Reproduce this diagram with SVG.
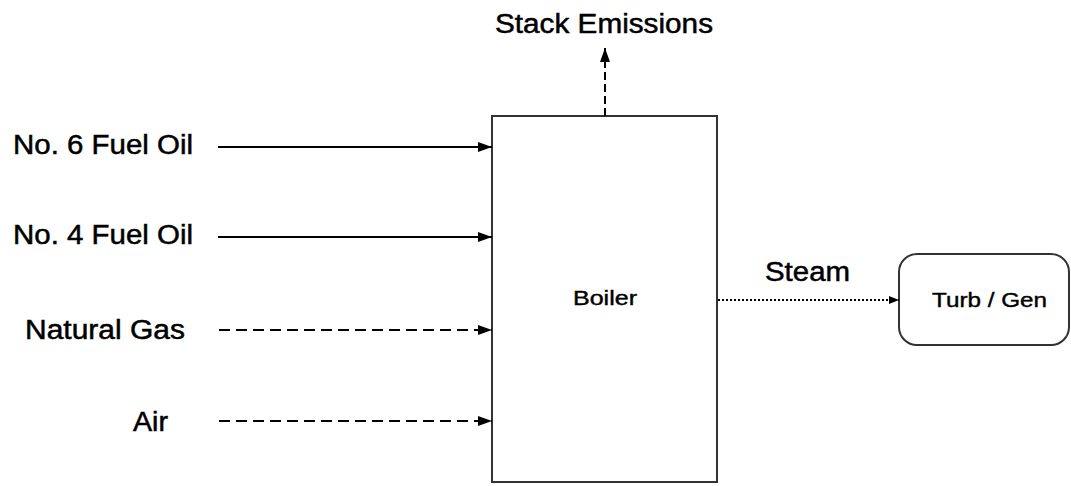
<svg xmlns="http://www.w3.org/2000/svg" width="1071" height="486" viewBox="0 0 1071 486">
  <style>
    .lbl { font-family: "Liberation Sans", Arial, sans-serif; font-size: 27px; fill: #000; stroke: #000; stroke-width: 0.5; }
    .in { font-family: "Liberation Sans", Arial, sans-serif; font-size: 20px; fill: #000; stroke: #000; stroke-width: 0.4; }
    .box { fill: #fff; stroke: #333; stroke-width: 2; }
    .solid { stroke: #000; stroke-width: 2; fill: none; }
    .dash { stroke: #000; stroke-width: 2; fill: none; stroke-dasharray: 11 6; }
    .vdash { stroke: #000; stroke-width: 2; fill: none; stroke-dasharray: 8 4; }
    .dot { stroke: #000; stroke-width: 2; fill: none; stroke-dasharray: 2 2; }
  </style>
  <defs>
    <marker id="arrow" viewBox="0 0 14 10" refX="14" refY="5" markerWidth="14" markerHeight="10" markerUnits="userSpaceOnUse" orient="auto">
      <path d="M0,0 L14,5 L0,10 Z" fill="#000"/>
    </marker>
    <marker id="arrowSmall" viewBox="0 0 10 8" refX="10" refY="4" markerWidth="10" markerHeight="8" markerUnits="userSpaceOnUse" orient="auto">
      <path d="M0,0 L10,4 L0,8 Z" fill="#000"/>
    </marker>
  </defs>

  <rect width="1071" height="486" fill="#fff"/>

  <!-- process units -->
  <g id="boiler">
    <rect class="box" x="492" y="116" width="225" height="366"/>
    <text class="in" x="573" y="305" textLength="64" lengthAdjust="spacingAndGlyphs">Boiler</text>
  </g>
  <g id="turbgen">
    <rect class="box" x="899" y="254" width="170" height="91" rx="18" ry="18"/>
    <text class="in" x="932" y="307" textLength="115" lengthAdjust="spacingAndGlyphs">Turb / Gen</text>
  </g>

  <!-- stream labels -->
  <g id="fuel6"><text class="lbl" x="13" y="154" textLength="180" lengthAdjust="spacingAndGlyphs">No. 6 Fuel Oil</text></g>
  <g id="fuel4"><text class="lbl" x="13" y="244" textLength="180" lengthAdjust="spacingAndGlyphs">No. 4 Fuel Oil</text></g>
  <g id="natgas"><text class="lbl" x="25" y="339" textLength="160" lengthAdjust="spacingAndGlyphs">Natural Gas</text></g>
  <g id="air"><text class="lbl" x="133" y="431" textLength="35" lengthAdjust="spacingAndGlyphs">Air</text></g>
  <g id="stack"><text class="lbl" x="495" y="33" textLength="218" lengthAdjust="spacingAndGlyphs">Stack Emissions</text></g>
  <g id="steam"><text class="lbl" x="765" y="281" textLength="85" lengthAdjust="spacingAndGlyphs">Steam</text></g>

  <!-- connectors -->
  <g id="connectors">
    <line class="solid" x1="218" y1="147" x2="492" y2="147" marker-end="url(#arrow)"/>
    <line class="solid" x1="218" y1="237" x2="492" y2="237" marker-end="url(#arrow)"/>
    <line class="dash" x1="219" y1="330" x2="492" y2="330" marker-end="url(#arrow)"/>
    <line class="dash" x1="219" y1="421" x2="492" y2="421" marker-end="url(#arrow)"/>
    <line class="vdash" x1="605" y1="116" x2="605" y2="48" marker-end="url(#arrow)"/>
    <line class="dot" x1="718" y1="300" x2="899" y2="300" marker-end="url(#arrowSmall)"/>
  </g>
</svg>
